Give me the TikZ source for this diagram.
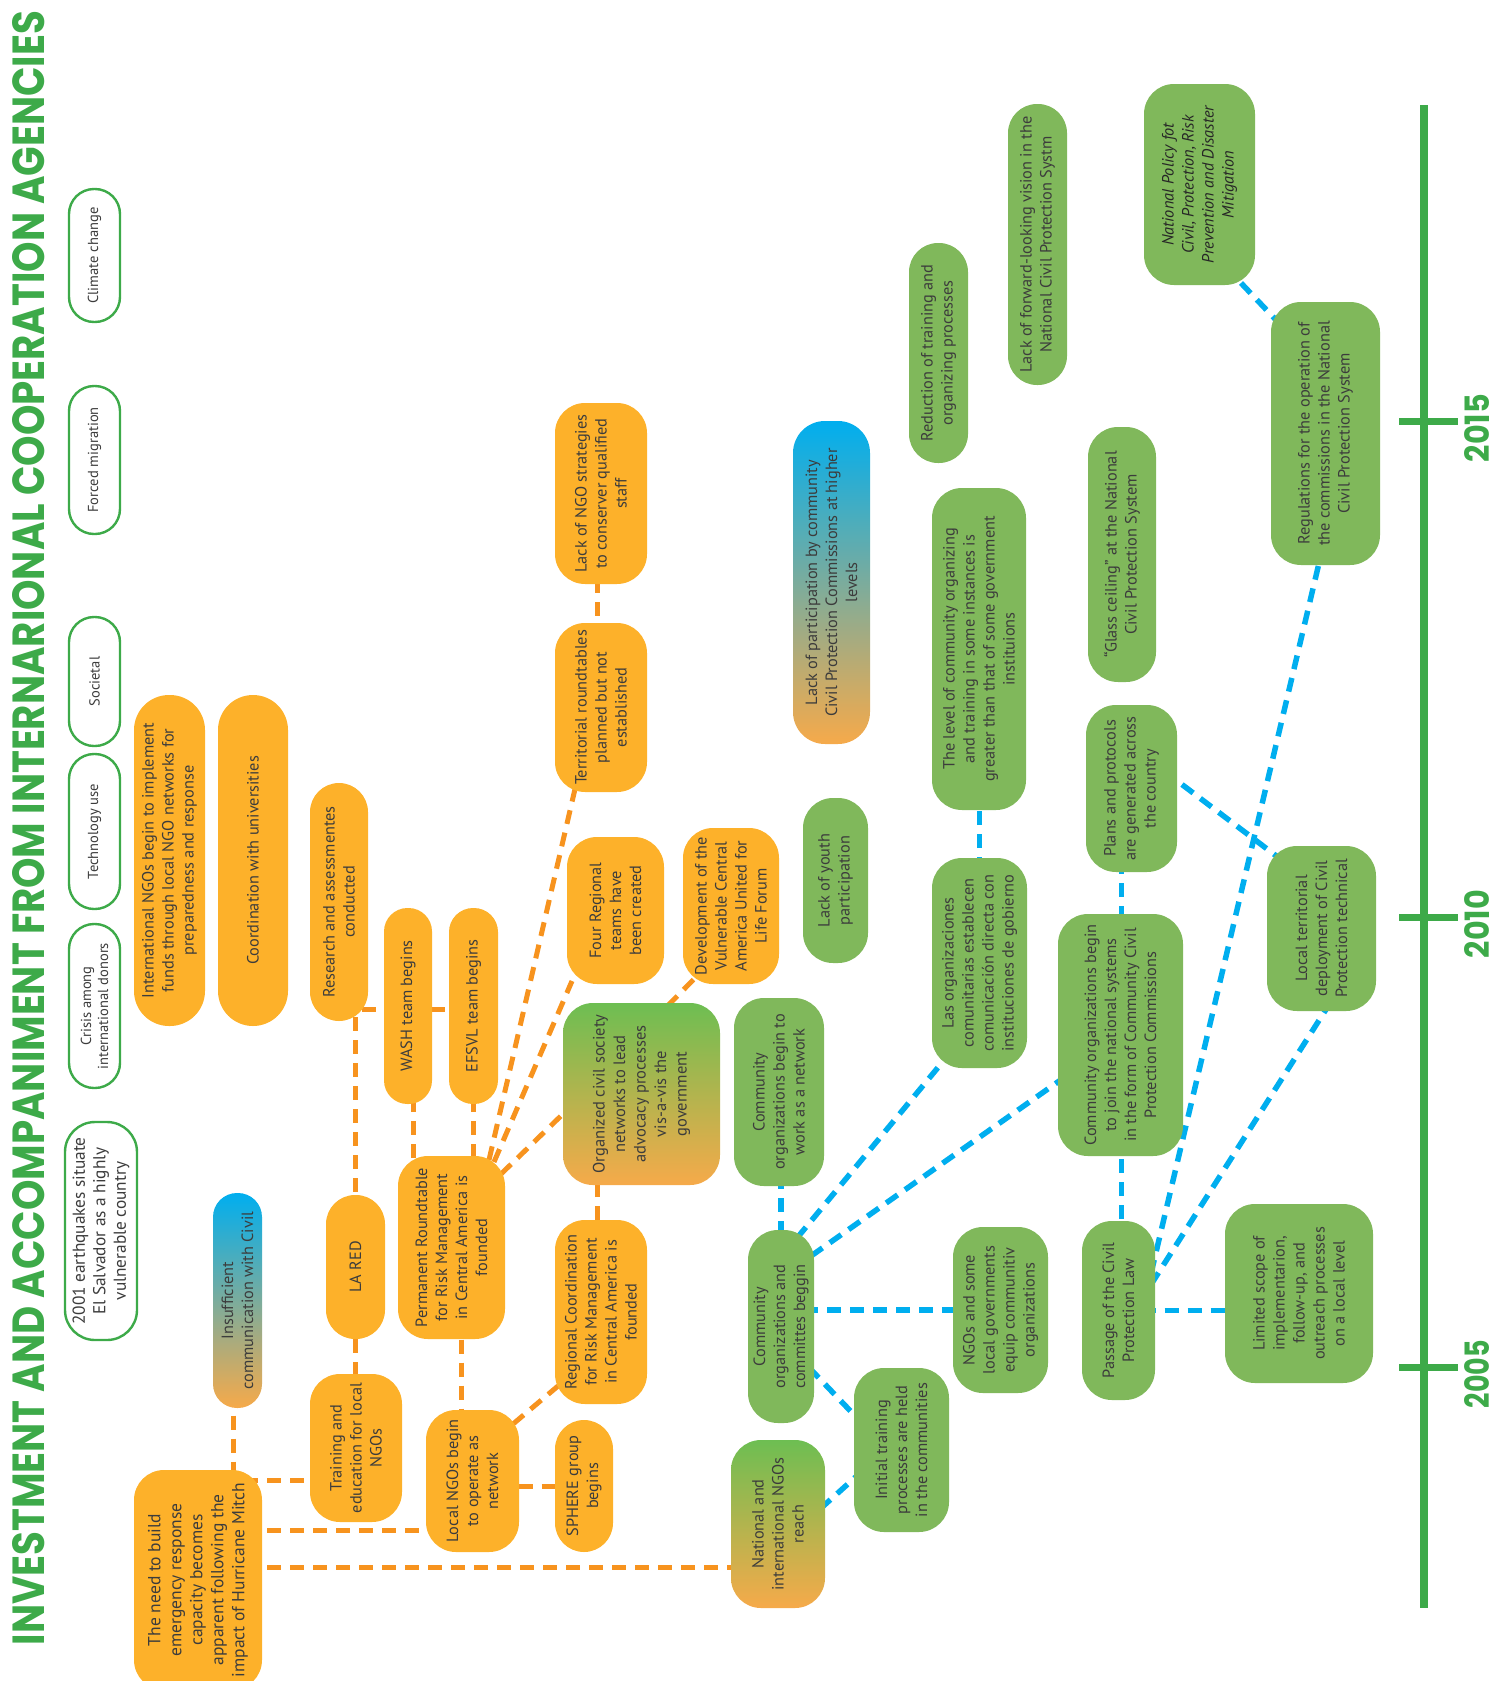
\documentclass[tikz,border=0pt]{standalone}
\usepackage{graphicx}
\usepackage{fontspec}
\setmainfont{PT Sans}
\newfontfamily\titlefont{Poppins}
\usetikzlibrary{calc,backgrounds}
\newcommand\vtx[2]{\rotatebox{90}{\parbox{#1}{\centering #2}}}
\definecolor{ora}{HTML}{FDB12A}
\definecolor{grn}{HTML}{80B85B}
\definecolor{ogrn}{HTML}{3DAA49}
\definecolor{odash}{HTML}{F7931E}
\definecolor{bdash}{HTML}{00AEEF}
\definecolor{txt}{HTML}{3C3C3C}
\definecolor{gblue}{HTML}{00AEEF}
\definecolor{gorange}{HTML}{F6AA4A}
\definecolor{ggreen}{HTML}{6DBE52}
\tikzset{
  nbase/.style={inner sep=0pt, outer sep=0pt, text=txt, font=\fontsize{16.3}{20}\selectfont, rounded corners=30pt},
  obox/.style={nbase, fill=ora},
  gbox/.style={nbase, fill=grn},
  pill/.style={nbase, draw=ogrn, line width=2.4pt, fill=white, font=\fontsize{14.5}{17}\selectfont},
  bo/.style={nbase, top color=gblue, bottom color=gorange},
  go/.style={nbase, top color=ggreen, bottom color=gorange},
  odsh/.style={draw=odash, line width=5pt, dash pattern=on 14pt off 9pt},
  bdsh/.style={draw=bdash, line width=5.5pt, dash pattern=on 14pt off 9pt},
  wh/.style n args={2}{minimum width=#1pt, minimum height=#2pt},
}
\begin{document}
\begin{tikzpicture}[x=1pt,y=-1pt]
\useasboundingbox (0,0) rectangle (1489,1681);

% title
\node[rotate=90, inner sep=0pt, text=ogrn] (title) at (29,828)
  {\resizebox{1634pt}{32pt}{\titlefont\bfseries INVESTMENT AND ACCOMPANIMENT FROM INTERNARIONAL COOPERATION AGENCIES}};

% outlined pills
\node[pill, wh={51}{133}, rounded corners=25pt] (climate) at (94.5,255.5) {\vtx{125pt}{Climate change}};
\node[pill, wh={51}{148}, rounded corners=25pt] (forced) at (94.5,460) {\vtx{140pt}{Forced migration}};
\node[pill, wh={51}{129}, rounded corners=25pt] (societal) at (94.5,681.5) {\vtx{120pt}{Societal}};
\node[pill, wh={51}{155}, rounded corners=25pt] (tech) at (94.5,831.5) {\vtx{145pt}{Technology use}};
\node[pill, wh={51}{164}, rounded corners=25pt] (crisis) at (94.5,1006) {\vtx{155pt}{Crisis among\\international donors}};
\node[pill, wh={72}{218}, rounded corners=30pt, font=\fontsize{17.3}{20.5}\selectfont] (quake) at (101,1231) {\vtx{212pt}{2001 earthquakes situate\\El Salvador as a highly\\vulnerable country}};

% orange boxes
\node[obox, wh={71}{331}, rounded corners=35pt] (intl) at (169.5,860.5) {\vtx{325pt}{International NGOs begin to implement\\funds through local NGO networks for\\preparedness and response}};
\node[obox, wh={70}{331}, rounded corners=35pt] (coord) at (253,860.5) {\vtx{320pt}{Coordination with universities}};
\node[obox, wh={58}{238}, rounded corners=29pt] (research) at (339,902) {\vtx{232pt}{Research and assessmentes\\conducted}};
\node[obox, wh={48}{196}, rounded corners=23.5pt] (wash) at (408,1006) {\vtx{190pt}{WASH team begins}};
\node[obox, wh={49}{196}, rounded corners=24pt] (efsvl) at (473.5,1006) {\vtx{190pt}{EFSVL team begins}};
\node[bo, wh={49}{215}, rounded corners=24pt] (insuff) at (237.5,1300.5) {\vtx{210pt}{Insufficient\\communication with Civil}};
\node[obox, wh={59}{144}, rounded corners=29pt] (lared) at (355.5,1267) {\vtx{138pt}{LA RED}};
\node[obox, wh={107}{183}] (perm) at (451.5,1247.5) {\vtx{180pt}{Permanent Roundtable\\for Risk Management\\in Central America is\\founded}};
\node[obox, wh={92}{148}] (train) at (356,1448) {\vtx{146pt}{Training and\\education for local\\NGOs}};
\node[obox, wh={93}{142}] (localngo) at (472.5,1481) {\vtx{140pt}{Local NGOs begin\\to operate as\\network}};
\node[obox, wh={128}{220}, font=\fontsize{17.5}{21}\selectfont] (need) at (198,1580) {\vtx{218pt}{The need to build\\emergency response\\capacity becomes\\apparent following the\\impact of Hurricane Mitch}};
\node[obox, wh={58}{132}, rounded corners=29pt] (sphere) at (584,1486) {\vtx{128pt}{SPHERE group\\begins}};
\node[obox, wh={92}{184}] (regcoord) at (601,1312) {\vtx{182pt}{Regional Coordination\\for Risk Management\\in Central America is\\founded}};
\node[go, wh={157}{182}, font=\fontsize{16.5}{20.5}\selectfont] (orgciv) at (641.5,1094) {\vtx{180pt}{Organized civil society\\networks to lead\\advocacy processes\\vis-a-vis the\\government}};
\node[obox, wh={97}{147}] (four) at (615.5,910.5) {\vtx{143pt}{Four Regional\\teams have\\been created}};
\node[obox, wh={96}{156}] (dev) at (731,906) {\vtx{154pt}{Development of the\\Vulnerable Central\\America United for\\Life Forum}};
\node[obox, wh={92}{169}] (terr) at (601,707.5) {\vtx{167pt}{Territorial roundtables\\planned but not\\established}};
\node[obox, wh={92}{181}] (lackngo) at (601,493.5) {\vtx{179pt}{Lack of NGO strategies\\to conserver qualified\\staff}};

% green boxes
\node[bo, wh={77}{323}, rounded corners=32pt] (lackpart) at (831.5,582.5) {\vtx{320pt}{Lack of participation by community\\Civil Protection Commissions at higher\\levels}};
\node[gbox, wh={65}{165}] (youth) at (835.5,880.5) {\vtx{160pt}{Lack of youth\\participation}};
\node[gbox, wh={90}{188}] (commnet) at (779,1092) {\vtx{186pt}{Community\\organizations begin to\\work as a network}};
\node[gbox, wh={66}{193}] (committees) at (781,1326.5) {\vtx{191pt}{Community\\organizations and\\committes beggin}};
\node[go, wh={94}{168}] (natreach) at (778,1524) {\vtx{164pt}{National and\\international NGOs\\reach}};
\node[gbox, wh={95}{164}] (inittrain) at (901.5,1450) {\vtx{162pt}{Initial training\\processes are held\\in the communities}};
\node[gbox, wh={95}{166}] (ngoslocal) at (1000.5,1310) {\vtx{164pt}{NGOs and some\\local governments\\equip communitiv\\organizations}};
\node[gbox, wh={95}{210}] (lasorg) at (979.5,963) {\vtx{208pt}{Las organizaciones\\comunitarias establecen\\comunicación directa con\\instituciones de gobierno}};
\node[gbox, wh={94}{322}] (level) at (979,649) {\vtx{320pt}{The level of community organizing\\and training in some instances is\\greater than that of some government\\instituions}};
\node[gbox, wh={59}{220}, rounded corners=29pt] (reduction) at (938.5,353) {\vtx{218pt}{Reduction of training and\\organizing processes}};
\node[gbox, wh={59}{281}, rounded corners=29pt] (forward) at (1037.5,244.5) {\vtx{280pt}{Lack of forward-looking vision in the\\National Civil Protection Systm}};
\node[gbox, wh={111}{201}, text=black!85] (policy) at (1199.5,184.5) {\vtx{198pt}{\itshape National Policy fot\\Civil, Protection, Risk\\Prevention and Disaster\\Mitigation}};
\node[gbox, wh={109}{263}] (regul) at (1325.5,433.5) {\vtx{260pt}{Regulations for the operation of\\the commissions in the National\\Civil Protection System}};
\node[gbox, wh={68}{255}] (glass) at (1122,554.5) {\vtx{252pt}{“Glass ceiling” at the National\\Civil Protection System}};
\node[gbox, wh={91}{167}] (plans) at (1131.5,788.5) {\vtx{165pt}{Plans and protocols\\are generated across\\the country}};
\node[gbox, wh={125}{242}] (commjoin) at (1120.5,1035) {\vtx{240pt}{Community organizations begin\\to join the national systems\\in the form of Community Civil\\Protection Commissions}};
\node[gbox, wh={109}{165}] (localterr) at (1321.5,928.5) {\vtx{163pt}{Local territorial\\deployment of Civil\\Protection technical}};
\node[gbox, wh={73}{179}] (passage) at (1118.5,1310.5) {\vtx{177pt}{Passage of the Civil\\Protection Law}};
\node[gbox, wh={148}{179}] (limited) at (1299,1293.5) {\vtx{177pt}{Limited scope of\\implementarion,\\follow-up, and\\outreach processes\\on a local level}};

% timeline
\coordinate (tltop) at (1424,105);
\coordinate (tlbot) at (1424,1608);
\draw[ogrn, line width=8pt] (tltop) -- (tlbot);
\foreach \yy/\lab in {421/2015, 917/2010, 1367/2005}{
  \draw[ogrn, line width=7pt] (1399,\yy) -- (1458,\yy);
  \node[rotate=90, inner sep=0pt, text=ogrn] at (1477,\yy+7) {\resizebox{68pt}{25pt}{\titlefont\bfseries \lab}};
}

\begin{scope}[on background layer]
% orange connectors
\draw[odsh] ($(insuff.center)+(-4,0)$) -- ($(insuff.center |- need.center)+(-4,0)$);
\draw[odsh] ($(need.north)+(0,10)$) -- ($(need.north -| train.center)+(0,10)$);
\draw[odsh] ($(localngo.south -| need.center)+(0,-22)$) -- ($(localngo.south)+(0,-22)$);
\draw[odsh] ($(need.north)+(0,97)$) -- ($(need.north -| natreach.center)+(0,97)$);
\draw[odsh] (research.center -| lared.center) -- (train.center -| lared.center);
\draw[odsh] ($(research.south)+(0,-12)$) -- ($(research.south -| efsvl.center)+(0,-12)$);
\draw[odsh] ($(wash.center)+(5,0)$) -- ($(wash.center |- perm.center)+(5,0)$);
\draw[odsh] (efsvl.center) -- (efsvl.center |- perm.center);
\draw[odsh] ($(perm.center)+(10,0)$) -- ($(perm.center |- localngo.center)+(10,0)$);
\draw[odsh] ($(localngo.north east)+(-6,14)$) -- ($(regcoord.south west)+(3,-18)$);
\draw[odsh] (localngo.center |- sphere.center) -- (sphere.center);
\draw[odsh] ($(regcoord.center)+(-4,0)$) -- ($(regcoord.center |- orgciv.center)+(-4,0)$);
\draw[odsh] ($(perm.north east)+(-16,4)$) -- ($(terr.south west)+(20,-3)$);
\draw[odsh] ($(perm.north east)+(-11,6)$) -- ($(four.south west)+(5,-3)$);
\draw[odsh] ($(perm.north east)+(-4,18)$) -- ($(orgciv.south west)+(3,-74)$);
\draw[odsh] ($(orgciv.north)+(26,3)$) -- ($(dev.south west)+(14,-8)$);
\draw[odsh] ($(terr.center)+(-4,0)$) -- ($(terr.center |- lackngo.center)+(-4,0)$);
% blue connectors
\draw[bdsh] ($(natreach.east)+(-5,-15)$) -- ($(inittrain.west)+(5,24)$);
\draw[bdsh] ($(committees.east)+(-5,41)$) -- ($(inittrain.west)+(5,-30)$);
\draw[bdsh] (committees.center) -- (committees.center |- commnet.center);
\draw[bdsh] ($(committees.north)+(16,8)$) -- ($(lasorg.south west)+(13,-9)$);
\draw[bdsh] ($(committees.north east)+(-3,26)$) -- ($(commjoin.west)+(4,44)$);
\draw[bdsh] (committees.center |- ngoslocal.center) -- (ngoslocal.center);
\draw[bdsh] (lasorg.center) -- (lasorg.center |- level.center);
\draw[bdsh] (passage.center) -- (passage.center -| limited.center);
\draw[bdsh] ($(passage.center)+(3,0)$) -- ($(passage.center |- plans.center)+(3,0)$);
\draw[bdsh] ($(passage.east)+(-4,-37)$) -- ($(regul.south)+(-6,-4)$);
\draw[bdsh] ($(passage.east)+(-4,-26)$) -- ($(localterr.south)+(6,-4)$);
\draw[bdsh] ($(plans.east)+(5,-4)$) -- ($(localterr.north west)+(12,12)$);
\draw[bdsh] ($(policy.south east)+(-14,-2)$) -- ($(regul.north west)+(5,18)$);
\end{scope}
\end{tikzpicture}
\end{document}
